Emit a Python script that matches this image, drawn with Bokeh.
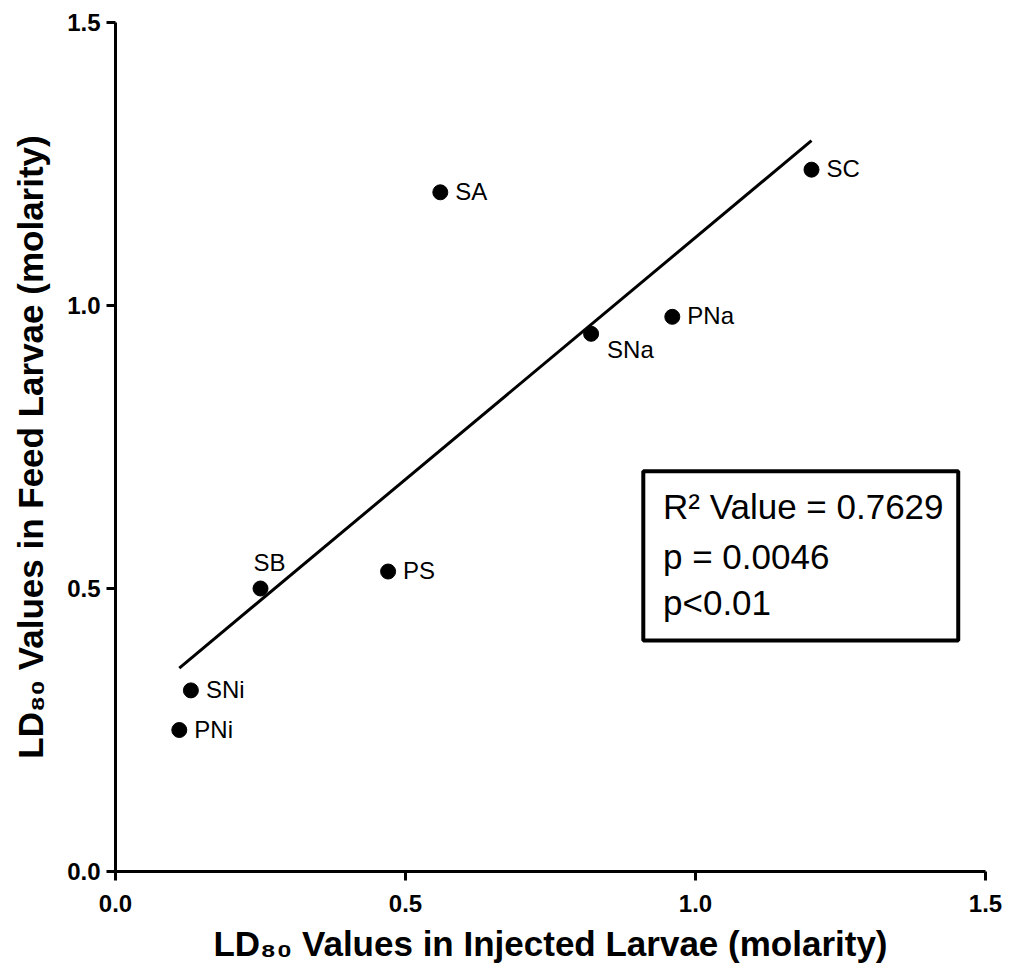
import numpy as np
from bokeh.core.properties import value
from bokeh.embed import file_html
from bokeh.models import BoxAnnotation, ColumnDataSource, FixedTicker, Label, NumeralTickFormatter, Range1d
from bokeh.plotting import figure
from bokeh.resources import INLINE

# LD80 (molarity) of each salt, injected larvae vs. fed larvae
salts = ["SA", "SC", "PNa", "SNa", "SB", "PS", "SNi", "PNi"]
ld80_injected = [0.56, 1.20, 0.96, 0.82, 0.25, 0.47, 0.13, 0.11]
ld80_feed = [1.20, 1.24, 0.98, 0.95, 0.50, 0.53, 0.32, 0.25]
axis_ticks = [0.0, 0.5, 1.0, 1.5]
stats_lines = ["R² Value = 0.7629", "p = 0.0046", "p<0.01"]
x_title = "LD₈₀ Values in Injected Larvae (molarity)"
y_title = "LD₈₀ Values in Feed Larvae (molarity)"

FONT = "Liberation Sans"

# where each salt name sits relative to its dot: (dx, dy) in pixels, dy downward
label_side = {"SNa": "below", "SB": "above"}
side_offsets = {"right": (15, -1), "below": (16, 16), "above": (-7, -26)}

p = figure(
    width=1012, height=970,
    x_range=Range1d(0, 1.5), y_range=Range1d(0, 1.5),
    output_backend="svg", toolbar_location=None,
    min_border_left=115, min_border_right=27,
    min_border_top=22, min_border_bottom=99,
)
p.grid.visible = False
p.outline_line_color = None
p.background_fill_color = "white"
p.border_fill_color = "white"

for ax in (p.xaxis[0], p.yaxis[0]):
    ax.ticker = FixedTicker(ticks=axis_ticks)
    ax.formatter = NumeralTickFormatter(format="0.0")
    ax.axis_line_width = 3
    ax.axis_line_color = "black"
    ax.major_tick_line_width = 3
    ax.major_tick_line_color = "black"
    ax.major_tick_out = 9
    ax.major_tick_in = 0
    ax.minor_tick_line_color = None
    ax.major_label_text_font = FONT
    ax.major_label_text_font_style = "bold"
    ax.major_label_text_font_size = "24px"
    ax.major_label_text_color = "black"
    ax.axis_label_text_font = FONT
    ax.axis_label_text_font_size = "35px"
    ax.axis_label_text_font_style = "bold"
    ax.axis_label_text_color = "black"
p.xaxis.major_label_standoff = 14
p.yaxis.major_label_standoff = 6
p.xaxis.axis_label = x_title
p.xaxis.axis_label_standoff = 9
p.yaxis.axis_label = y_title
p.yaxis.axis_label_standoff = 14

# least-squares fit across the measured range
slope, intercept = np.polyfit(ld80_injected, ld80_feed, 1)
x_fit = np.array([min(ld80_injected), max(ld80_injected)])
p.line(x_fit, slope * x_fit + intercept, line_width=3, line_color="black")

p.scatter(ld80_injected, ld80_feed, size=15, fill_color="black", line_color="black")

sides = [label_side.get(s, "right") for s in salts]
src = ColumnDataSource(dict(
    x=ld80_injected, y=ld80_feed, name=salts,
    dx=[side_offsets[s][0] for s in sides],
    dy=[side_offsets[s][1] for s in sides],
))
p.text(x="x", y="y", text="name", x_offset="dx", y_offset="dy", source=src,
       text_font=value(FONT), text_font_size="24px", text_color="black",
       text_align="left", text_baseline="alphabetic")

# statistics box
p.add_layout(BoxAnnotation(left=0.910, right=1.453, bottom=0.408, top=0.707,
                           fill_color="white", fill_alpha=1.0,
                           line_color="black", line_alpha=1.0, line_width=4))
for line_text, base_y in zip(stats_lines, [0.6452, 0.5567, 0.4754]):
    p.add_layout(Label(x=0.944, y=base_y, text=line_text,
                       text_font=FONT, text_font_size="35px", text_color="black",
                       text_align="left", text_baseline="alphabetic"))

open("out.html", "w").write(file_html(p, INLINE))
